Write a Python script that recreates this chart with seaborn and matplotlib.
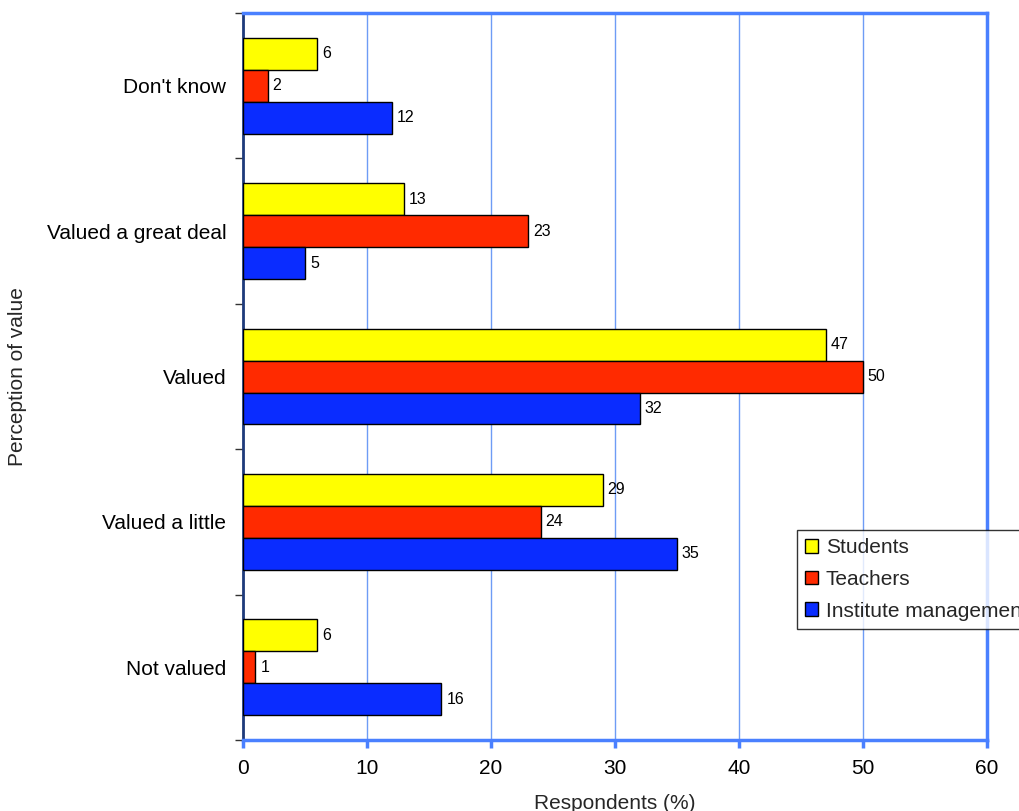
import numpy as np
import pandas as pd
import matplotlib
matplotlib.use("Agg")
import matplotlib.pyplot as plt
import seaborn as sns

categories = ["Don't know", "Valued a great deal", "Valued", "Valued a little", "Not valued"]
groups = ["Students", "Teachers", "Institute management"]
students = [6, 13, 47, 29, 6]
teachers = [2, 23, 50, 24, 1]
management = [12, 5, 32, 35, 16]

colors = ["#FFFF00", "#FF2A00", "#0A2CFF"]
spine_blue = "#4A80FF"
grid_blue = "#6E9CF5"

sns.set_theme(style="white")
plt.rcParams["font.family"] = ["Liberation Sans", "DejaVu Sans"]

df = pd.DataFrame({
    "category": categories * 3,
    "group": [g for g in groups for _ in categories],
    "value": students + teachers + management,
})

fig = plt.figure(figsize=(10.19, 8.11), dpi=100)
ax = fig.add_axes([0.2385, 0.0875, 0.7301, 0.8965])

sns.barplot(data=df, y="category", x="value", hue="group", order=categories,
            hue_order=groups, palette=colors, orient="h", width=0.66,
            edgecolor="black", linewidth=1.0, saturation=1, ax=ax, zorder=3)

for cont in ax.containers:
    ax.bar_label(cont, padding=3.5, fontsize=11.5, color="black")

ax.set_xlim(0, 60)
ax.set_ylim(len(categories) - 0.5, -0.5)
ax.set_xticks(np.arange(0, 61, 10))
ax.set_yticks(np.arange(-0.5, len(categories), 1.0), minor=True)
ax.xaxis.grid(True, color=grid_blue, linewidth=1.0, zorder=0)
ax.yaxis.grid(False)

for side in ["top", "right", "bottom"]:
    ax.spines[side].set_color(spine_blue)
    ax.spines[side].set_linewidth(2.5)
ax.spines["left"].set_color("#1E3A7A")
ax.spines["left"].set_linewidth(2.0)

ax.tick_params(axis="x", which="major", length=6, width=2.5, color=spine_blue,
               labelsize=15, pad=8, labelcolor="black", direction="out", bottom=True)
ax.tick_params(axis="y", which="major", length=0, labelsize=15, pad=12, labelcolor="black")
ax.tick_params(axis="y", which="minor", length=6, width=1.0, color="#333333", left=True)

ax.set_xlabel("Respondents (%)", fontsize=15, labelpad=11)
ax.set_ylabel("Perception of value", fontsize=15, labelpad=14)

handles, labels = ax.get_legend_handles_labels()
leg = ax.legend(handles, labels, loc="upper left", bbox_to_anchor=(797 / 1019, 1 - 530 / 811),
                bbox_transform=fig.transFigure, fontsize=15, frameon=True, fancybox=False,
                edgecolor="black", handlelength=0.65, handleheight=0.65, handletextpad=0.35,
                labelspacing=0.62, borderpad=0.38, borderaxespad=0)
leg.get_frame().set_linewidth(1.0)

fig.savefig("out.png", dpi=100)
